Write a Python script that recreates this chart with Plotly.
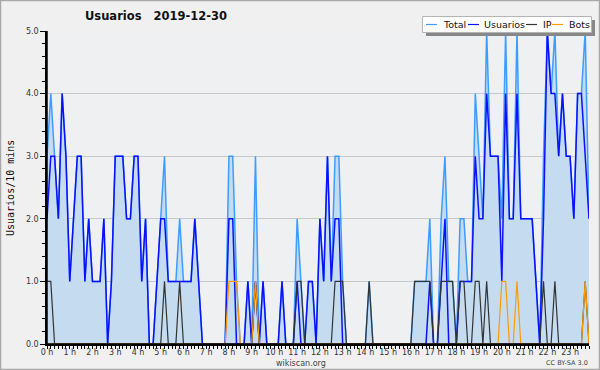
import plotly.graph_objects as go

# ---- data (10-minute buckets, 2019-12-30) ----
usuarios = [2, 3, 3, 2, 4, 3, 1, 2, 3, 3,
            1, 2, 1, 1, 1, 2, 0, 1, 3, 3,
            3, 2, 2, 3, 3, 1, 2, 0, 0, 1,
            2, 2, 1, 1, 1, 1, 1, 1, 1, 2,
            1, 0, 0, 0, 0, 0, 0, 0, 2, 2,
            0, 0, 0, 1, 0, 1, 0, 1, 0, 0,
            0, 0, 1, 0, 0, 0, 1, 0, 0, 1,
            1, 0, 2, 1, 3, 1, 2, 2, 0, 0,
            0, 0, 0, 0, 0, 0, 0, 0, 0, 0,
            0, 0, 0, 0, 0, 0, 0, 0, 0, 0,
            0, 1, 0, 0, 1, 2, 0, 0, 0, 1,
            1, 1, 1, 3, 2, 2, 4, 3, 3, 3,
            1, 4, 2, 2, 4, 2, 2, 2, 2, 1,
            0, 2, 5, 4, 4, 3, 4, 3, 3, 2,
            4, 4, 3, 2]
ip = [1, 1, 0, 0, 0, 0, 0, 0, 0, 0,
      0, 0, 0, 0, 0, 0, 0, 0, 0, 0,
      0, 0, 0, 0, 0, 0, 0, 0, 0, 0,
      0, 1, 0, 0, 0, 1, 0, 0, 0, 0,
      0, 0, 0, 0, 0, 0, 0, 0, 0, 0,
      0, 0, 0, 0, 0, 1, 0, 0, 0, 0,
      0, 0, 0, 0, 0, 0, 1, 1, 0, 0,
      0, 0, 0, 0, 0, 0, 1, 1, 1, 0,
      0, 0, 0, 0, 0, 1, 0, 0, 0, 0,
      0, 0, 0, 0, 0, 0, 0, 1, 1, 1,
      1, 1, 0, 0, 1, 1, 1, 1, 0, 1,
      1, 0, 0, 1, 1, 0, 1, 0, 0, 0,
      0, 0, 0, 0, 0, 0, 0, 0, 0, 0,
      0, 1, 0, 0, 1, 0, 0, 0, 0, 0,
      0, 0, 1, 0]
bots = [0, 0, 0, 0, 0, 0, 0, 0, 0, 0,
        0, 0, 0, 0, 0, 0, 0, 0, 0, 0,
        0, 0, 0, 0, 0, 0, 0, 0, 0, 0,
        0, 0, 0, 0, 0, 0, 0, 0, 0, 0,
        0, 0, 0, 0, 0, 0, 0, 0, 1, 1,
        1, 0, 0, 0, 0, 1, 0, 0, 0, 0,
        0, 0, 0, 0, 0, 0, 0, 0, 0, 0,
        0, 0, 0, 0, 0, 0, 0, 0, 0, 0,
        0, 0, 0, 0, 0, 0, 0, 0, 0, 0,
        0, 0, 0, 0, 0, 0, 0, 0, 0, 0,
        0, 0, 0, 0, 0, 0, 0, 0, 0, 0,
        0, 0, 0, 0, 0, 0, 0, 0, 0, 0,
        1, 1, 0, 0, 1, 0, 0, 0, 0, 0,
        0, 0, 0, 0, 0, 0, 0, 0, 0, 0,
        0, 0, 1, 0]
total = [u + p + b for u, p, b in zip(usuarios, ip, bots)]
hours = [i / 6 for i in range(len(usuarios))]          # time of each bucket, in hours
hour_ticks = list(range(24))
hour_labels = [f"{h} h" for h in hour_ticks]
y_ticks = [0, 1, 2, 3, 4, 5]
y_labels = [f"{v:.1f}" for v in y_ticks]

# ---- layout geometry ----
W, H = 600, 370
ML, MR, MT, MB = 47, 11, 31, 26
PW, PH = W - ML - MR, H - MT - MB


def px(x):
    return (x - ML) / PW


def py(y):
    return (H - MB - y) / PH


FONT = "DejaVu Sans"
C_TOTAL, C_USR, C_IP, C_BOT = "#3d9cff", "#0a10ff", "#333333", "#ff9a00"

fig = go.Figure()
fig.add_trace(go.Scatter(x=hours, y=total, mode="lines", name="Total",
                         line=dict(color=C_TOTAL, width=1.5),
                         fill="tozeroy", fillcolor="#c5dcf0"))
fig.add_trace(go.Scatter(x=hours, y=usuarios, mode="lines", name="Usuarios",
                         line=dict(color=C_USR, width=1.5)))
fig.add_trace(go.Scatter(x=hours, y=ip, mode="lines", name="IP",
                         line=dict(color=C_IP, width=1.2)))
fig.add_trace(go.Scatter(x=hours, y=bots, mode="lines", name="Bots",
                         line=dict(color=C_BOT, width=1.2)))

shapes = []
annotations = []

# outer frame
shapes.append(dict(type="rect", xref="paper", yref="paper",
                   x0=px(0.5), x1=px(599.5), y0=py(369.5), y1=py(0.5),
                   line=dict(color="#a8a8a8", width=1.5), layer="below"))
# axis lines drawn over the traces' zero segments
shapes.append(dict(type="line", xref="paper", yref="paper", x0=0, x1=1, y0=0, y1=0,
                   line=dict(color="#000000", width=1.5), layer="above"))
shapes.append(dict(type="line", xref="paper", yref="paper", x0=0, x1=0, y0=0, y1=1,
                   line=dict(color="#000000", width=1.5), layer="above"))

# legend box (drawn manually) with shadow
shapes.append(dict(type="rect", xref="paper", yref="paper",
                   x0=px(426), x1=px(595), y0=py(36), y1=py(20),
                   line=dict(width=0), fillcolor="#888888", layer="above"))
shapes.append(dict(type="rect", xref="paper", yref="paper",
                   x0=px(422.5), x1=px(591.5), y0=py(32.5), y1=py(16.5),
                   line=dict(color="#b4b4b4", width=1), fillcolor="#ffffff", layer="above"))
legend_items = [("Total", C_TOTAL, 426, 441), ("Usuarios", C_USR, 468, 482),
                ("IP", C_IP, 526, 541), ("Bots", C_BOT, 552, 567)]
for name, color, lx, tx in legend_items:
    shapes.append(dict(type="line", xref="paper", yref="paper",
                       x0=px(lx), x1=px(lx + 11), y0=py(24.5), y1=py(24.5),
                       line=dict(color=color, width=1.2), layer="above"))
    annotations.append(dict(text=name, xref="paper", yref="paper", x=px(tx), y=py(24.5),
                            xanchor="left", yanchor="middle", showarrow=False,
                            font=dict(family=FONT, size=9.5, color="#111111")))

# footer texts
annotations.append(dict(text="wikiscan.org", xref="paper", yref="paper", x=px(301), y=py(363),
                        xanchor="center", yanchor="middle", showarrow=False,
                        font=dict(family=FONT, size=8, color="#444444")))
annotations.append(dict(text="CC BY-SA 3.0", xref="paper", yref="paper", x=px(590), y=py(363),
                        xanchor="right", yanchor="middle", showarrow=False,
                        font=dict(family=FONT, size=6.5, color="#444444")))
# y-axis title
annotations.append(dict(text="Usuarios/10 mins", xref="paper", yref="paper", x=px(10), y=py(188),
                        xanchor="center", yanchor="middle", showarrow=False, textangle=-90,
                        font=dict(family="DejaVu Sans Mono", size=10, color="#111111")))

fig.update_layout(
    width=W, height=H,
    margin=dict(l=ML, r=MR, t=MT, b=MB, pad=0, autoexpand=False),
    paper_bgcolor="#f0f0f0", plot_bgcolor="#eef0f2",
    showlegend=False,
    title=dict(text="Usuarios\u00a0\u00a0 2019-12-30", x=85 / W, xanchor="left",
               y=1 - 16 / H, yanchor="middle", automargin=False,
               font=dict(family=FONT, size=11.5, color="#111111", weight="bold")),
    shapes=shapes, annotations=annotations,
    font=dict(family=FONT, size=8, color="#333333"),
)
fig.update_xaxes(range=[0, hours[-1]], tickvals=hour_ticks, ticktext=hour_labels,
                 automargin=False, ticklabelstandoff=-3,
                 ticks="outside", ticklen=3, tickwidth=1, tickcolor="#000000",
                 minor=dict(dtick=1 / 6, tick0=0, ticklen=3, tickcolor="#000000", ticks="outside",
                            showgrid=False),
                 showline=True, linecolor="#000000", linewidth=1.5,
                 showgrid=False, zeroline=False,
                 tickfont=dict(family=FONT, size=8, color="#333333"))
fig.update_yaxes(range=[0, 5], tickvals=y_ticks, ticktext=y_labels,
                 automargin=False,
                 ticks="outside", ticklen=5, tickwidth=1, tickcolor="#000000",
                 minor=dict(dtick=0.2, tick0=0, ticklen=3, tickcolor="#000000", ticks="outside",
                            showgrid=False),
                 showline=True, linecolor="#000000", linewidth=1.5,
                 showgrid=True, gridcolor="#c8c8c8", gridwidth=1, zeroline=False,
                 tickfont=dict(family=FONT, size=8, color="#333333"))

fig.write_html("out.html", config={"displayModeBar": False},
               post_script="document.body.style.margin='0';document.body.style.overflow='hidden';")
